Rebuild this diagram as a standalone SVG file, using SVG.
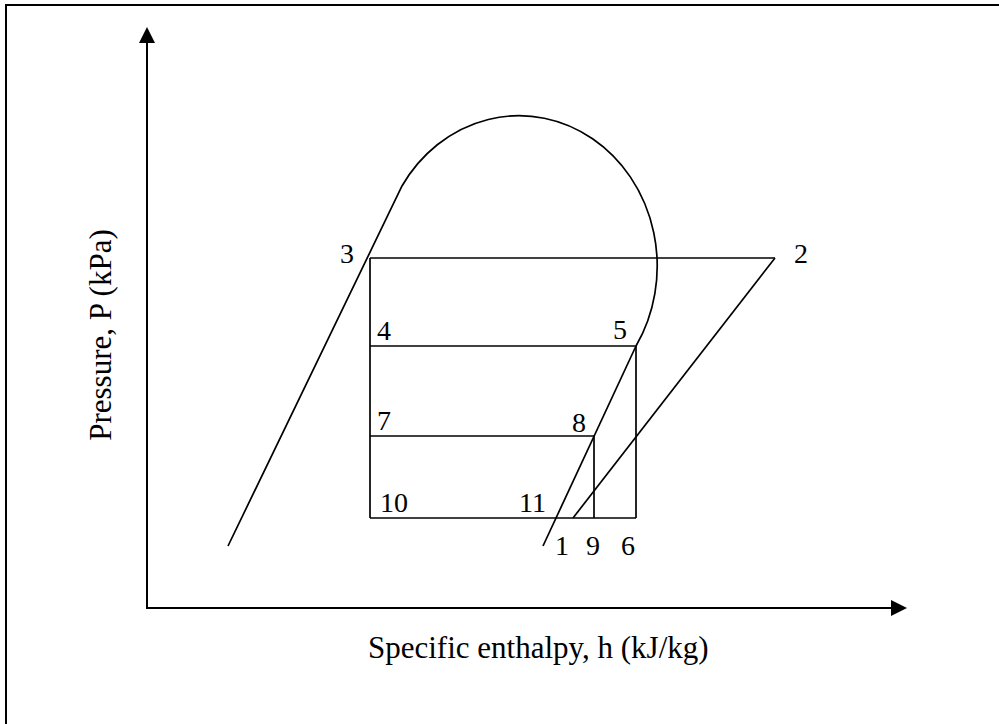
<svg xmlns="http://www.w3.org/2000/svg" width="999" height="724" viewBox="0 0 999 724">
<style>
.ln{fill:none;stroke:#000;stroke-width:1.7}
.ax{fill:none;stroke:#000;stroke-width:2}
.lb{font-family:"Liberation Serif","Times New Roman",serif;font-size:28px;fill:#000}
.al{font-family:"Liberation Serif","Times New Roman",serif;font-size:31px;fill:#000}
</style>
<rect width="999" height="724" fill="#fff"/>
<rect x="6" y="5" width="1200" height="900" fill="none" stroke="#000" stroke-width="2"/>
<g id="axes">
<line class="ax" x1="147" y1="40" x2="147" y2="608"/>
<line class="ax" x1="146" y1="608" x2="893" y2="608"/>
<polygon points="147,27 139,43 155,43" fill="#000"/>
<polygon points="907,608 891,600 891,616" fill="#000"/>
</g>
<g id="dome">
<path class="ln" d="M228,546 L402,186 A137,149 0 1 1 636,346"/>
</g>
<g id="connectors">
<line class="ln" x1="370" y1="258" x2="775" y2="258"/>
<line class="ln" x1="775" y1="258" x2="573" y2="518"/>
<line class="ln" x1="370" y1="258" x2="370" y2="518"/>
<line class="ln" x1="370" y1="346" x2="636" y2="346"/>
<line class="ln" x1="636" y1="346" x2="636" y2="518"/>
<line class="ln" x1="370" y1="436" x2="594" y2="436"/>
<line class="ln" x1="594" y1="436" x2="594" y2="518"/>
<line class="ln" x1="370" y1="518" x2="636" y2="518"/>
<line class="ln" x1="636" y1="346" x2="543" y2="546"/>
</g>
<g id="labels">
<text class="lb" x="340" y="263">3</text>
<text class="lb" x="794" y="263">2</text>
<text class="lb" x="377" y="340">4</text>
<text class="lb" x="613" y="339">5</text>
<text class="lb" x="377" y="430">7</text>
<text class="lb" x="572" y="432">8</text>
<text class="lb" x="380" y="512">10</text>
<text class="lb" x="519" y="512">11</text>
<text class="lb" x="555" y="555">1</text>
<text class="lb" x="586" y="555">9</text>
<text class="lb" x="621" y="555">6</text>
</g>
<g id="axis-labels">
<text class="al" x="368" y="658">Specific enthalpy, h (kJ/kg)</text>
<text class="al" transform="translate(111,335) rotate(-90)" text-anchor="middle">Pressure, P (kPa)</text>
</g>
</svg>
